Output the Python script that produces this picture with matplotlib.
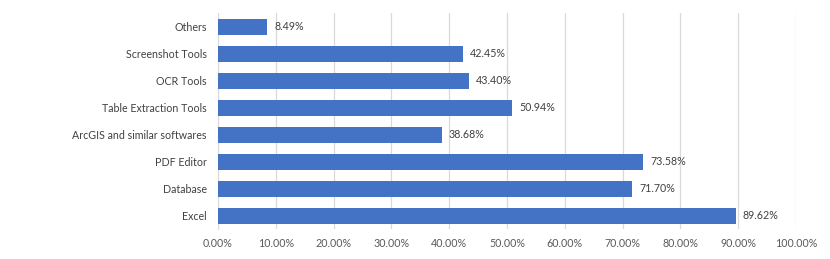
import matplotlib
matplotlib.use("Agg")
import matplotlib.pyplot as plt

categories = ["Excel", "Database", "PDF Editor", "ArcGIS and similar softwares",
              "Table Extraction Tools", "OCR Tools", "Screenshot Tools", "Others"]
values = [89.62, 71.70, 73.58, 38.68, 50.94, 43.40, 42.45, 8.49]
xticks = [0, 10, 20, 30, 40, 50, 60, 70, 80, 90, 100]

plt.rcParams["font.family"] = ["Lato", "DejaVu Sans"]

fig = plt.figure(figsize=(8.3, 2.59), dpi=100)
ax = fig.add_axes([0.2627, 0.114, 0.6964, 0.834])

ax.barh(range(len(categories)), values, height=0.59, color="#4472C4", zorder=3)
for i, v in enumerate(values):
    ax.text(v + 1.2, i, f"{v:.2f}%", va="center", ha="left", fontsize=7.7, color="#404040")

ax.set_xlim(0, 100)
ax.set_ylim(-0.5, len(categories) - 0.5)
ax.set_xticks(xticks)
ax.set_xticklabels([f"{t:.2f}%" for t in xticks], fontsize=7.7, color="#595959")
ax.set_yticks(range(len(categories)))
ax.set_yticklabels(categories, fontsize=7.7, color="#404040")
ax.tick_params(axis="y", length=0, pad=8)
ax.tick_params(axis="x", length=0, pad=6)
ax.grid(axis="x", color="#D9D9D9", linewidth=0.9, zorder=0)
for s in ["top", "right", "bottom"]:
    ax.spines[s].set_visible(False)
ax.spines["left"].set_color("#D9D9D9")

fig.savefig("out.png", dpi=100)
